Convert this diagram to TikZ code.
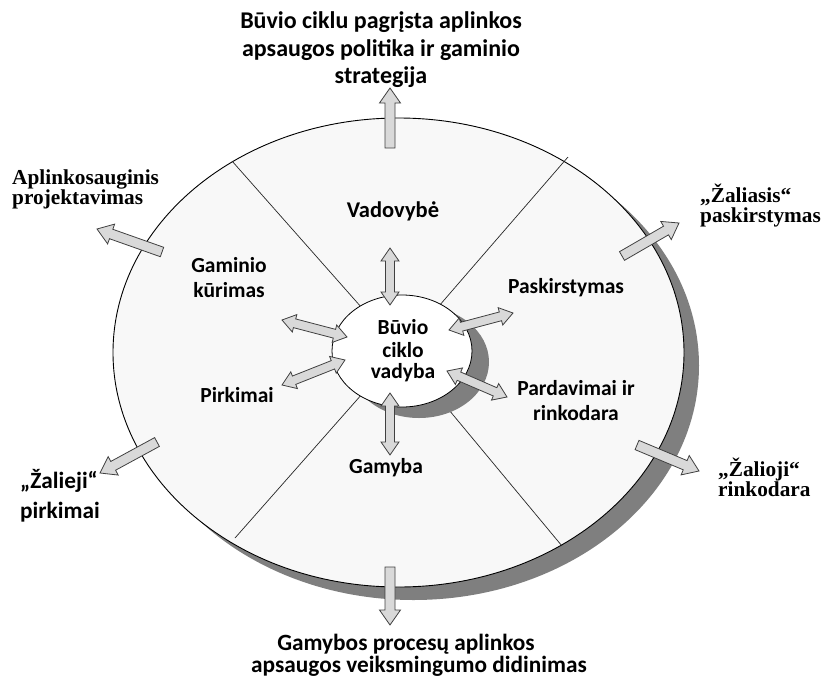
\documentclass[tikz,border=0pt]{standalone}
\usepackage{fontspec}
\setmainfont{Liberation Serif}
\newfontfamily\carl{Carlito}
\usetikzlibrary{calc}
\definecolor{shad}{HTML}{7F7F7F}
\definecolor{lightfill}{HTML}{F8F8F8}
\definecolor{arrfill}{HTML}{D9D9D9}
\definecolor{arrline}{HTML}{404040}
\newcommand\onearrow[2]{%
  \coordinate (hB) at ($(#2)!15pt!(#1)$);
  \draw[blockarrow] ($(#1)!5pt!90:(#2)$) -- ($(hB)!5pt!90:(#2)$) -- ($(hB)!10.5pt!90:(#2)$) -- (#2)
    -- ($(hB)!10.5pt!-90:(#2)$) -- ($(hB)!5pt!-90:(#2)$) -- ($(#1)!5pt!-90:(#2)$) -- cycle;
}
\newcommand\twoarrow[2]{%
  \coordinate (hA) at ($(#1)!13pt!(#2)$);
  \coordinate (hB) at ($(#2)!13pt!(#1)$);
  \draw[blockarrow] (#1) -- ($(hA)!9pt!90:(#2)$) -- ($(hA)!4.5pt!90:(#2)$) -- ($(hB)!4.5pt!90:(#2)$)
    -- ($(hB)!9pt!90:(#2)$) -- (#2) -- ($(hB)!9pt!-90:(#2)$) -- ($(hB)!4.5pt!-90:(#2)$)
    -- ($(hA)!4.5pt!-90:(#2)$) -- ($(hA)!9pt!-90:(#2)$) -- cycle;
}
\begin{document}
\begin{tikzpicture}[x=1pt,y=-1pt,
  blockarrow/.style={draw=arrline,fill=arrfill,line width=0.8pt,line join=miter},
  sansbig/.style={font=\carl\bfseries\fontsize{24}{28}\selectfont,inner sep=0pt},
  sansout/.style={font=\carl\bfseries\fontsize{23.3}{27}\selectfont,inner sep=0pt},
  sans/.style={font=\carl\bfseries\fontsize{21.5}{25}\selectfont,inner sep=0pt},
  serif/.style={font=\bfseries\fontsize{21.3}{21}\selectfont,inner sep=0pt},
  divider/.style={draw=black!85,line width=0.7pt}]
\useasboundingbox (0,0) rectangle (823,678);
% outer disc
\fill[shad] (413.5,365.5) ellipse [x radius=285.5, y radius=234.5];
\draw[fill=lightfill,line width=0.9pt] (398.5,352.5) ellipse [x radius=285.5, y radius=234.5];
% dividers
\coordinate (cen) at (400,351);
\coordinate (ul) at (232,161);
\coordinate (ur) at (568,157);
\coordinate (ll) at (235,538);
\coordinate (lr) at (562,546);
\draw[divider] (cen) -- (ul);
\draw[divider] (cen) -- (ur);
\draw[divider] (cen) -- (ll);
\draw[divider] (cen) -- (lr);
% inner disc
\fill[shad] (419,362) ellipse [x radius=70, y radius=56];
\draw[fill=white,line width=0.8pt] (402,351) ellipse [x radius=70, y radius=56];
% arrows
\coordinate (a1s) at (390,148); \coordinate (a1e) at (390,88);
\coordinate (a2s) at (390,248); \coordinate (a2e) at (390,305);
\coordinate (a3s) at (390,393); \coordinate (a3e) at (390,455);
\coordinate (a4s) at (390,567); \coordinate (a4e) at (390,625);
\coordinate (a5s) at (282,320); \coordinate (a5e) at (347,337);
\coordinate (a6s) at (282,385); \coordinate (a6e) at (345,360);
\coordinate (a7s) at (449,330); \coordinate (a7e) at (513,313);
\coordinate (a8s) at (447,371); \coordinate (a8e) at (507,397);
\coordinate (a9s) at (162,252); \coordinate (a9e) at (97,229);
\coordinate (a10s) at (622,256); \coordinate (a10e) at (679,223);
\coordinate (a11s) at (157,442); \coordinate (a11e) at (100,473);
\coordinate (a12s) at (637,445); \coordinate (a12e) at (699,471);
\onearrow{a1s}{a1e}
\twoarrow{a2s}{a2e}
\twoarrow{a3s}{a3e}
\onearrow{a4s}{a4e}
\twoarrow{a5s}{a5e}
\twoarrow{a6s}{a6e}
\twoarrow{a7s}{a7e}
\twoarrow{a8s}{a8e}
\onearrow{a9s}{a9e}
\onearrow{a10s}{a10e}
\onearrow{a11s}{a11e}
\onearrow{a12s}{a12e}
% outer texts
\node[sansbig,anchor=base] (top1) at (381,28) {Būvio ciklu pagrįsta aplinkos};
\node[sansbig,anchor=base] (top2) at (381,56) {apsaugos politika ir gaminio};
\node[sansbig,anchor=base] (top3) at (381,83) {strategija};
\node[serif,anchor=base west] (ap1) at (12,184) {Aplinkosauginis};
\node[serif,anchor=base west] (ap2) at (12,204) {projektavimas};
\node[serif,anchor=base west] (zp1) at (700,202) {„Žaliasis“};
\node[serif,anchor=base west] (zp2) at (700,222) {paskirstymas};
\node[serif,anchor=base west] (zr1) at (718,476) {„Žalioji“};
\node[serif,anchor=base west] (zr2) at (718,496) {rinkodara};
\node[sansout,anchor=base west] (zk1) at (20,488) {„Žalieji“};
\node[sansout,anchor=base west] (zk2) at (20,518) {pirkimai};
\node[sansout,anchor=base] (bot1) at (406,650) {Gamybos procesų aplinkos};
\node[sansout,anchor=base] (bot2) at (419,672) {apsaugos veiksmingumo didinimas};
% inner texts
\node[sans,anchor=base,font=\carl\bfseries\fontsize{22.5}{26}\selectfont] (vad) at (393,217) {Vadovybė};
\node[sans,anchor=base] (gk1) at (229,272) {Gaminio};
\node[sans,anchor=base] (gk2) at (229,297) {kūrimas};
\node[sans,anchor=base] (pask) at (566,293) {Paskirstymas};
\node[sans,anchor=base] (pirk) at (237,402) {Pirkimai};
\node[sans,anchor=base] (pr1) at (576,395) {Pardavimai ir};
\node[sans,anchor=base] (pr2) at (576,420) {rinkodara};
\node[sans,anchor=base] (gam) at (386,473) {Gamyba};
\node[sans,anchor=base] (bv1) at (403,334) {Būvio};
\node[sans,anchor=base] (bv2) at (403,357) {ciklo};
\node[sans,anchor=base] (bv3) at (403,378) {vadyba};
\end{tikzpicture}
\end{document}
